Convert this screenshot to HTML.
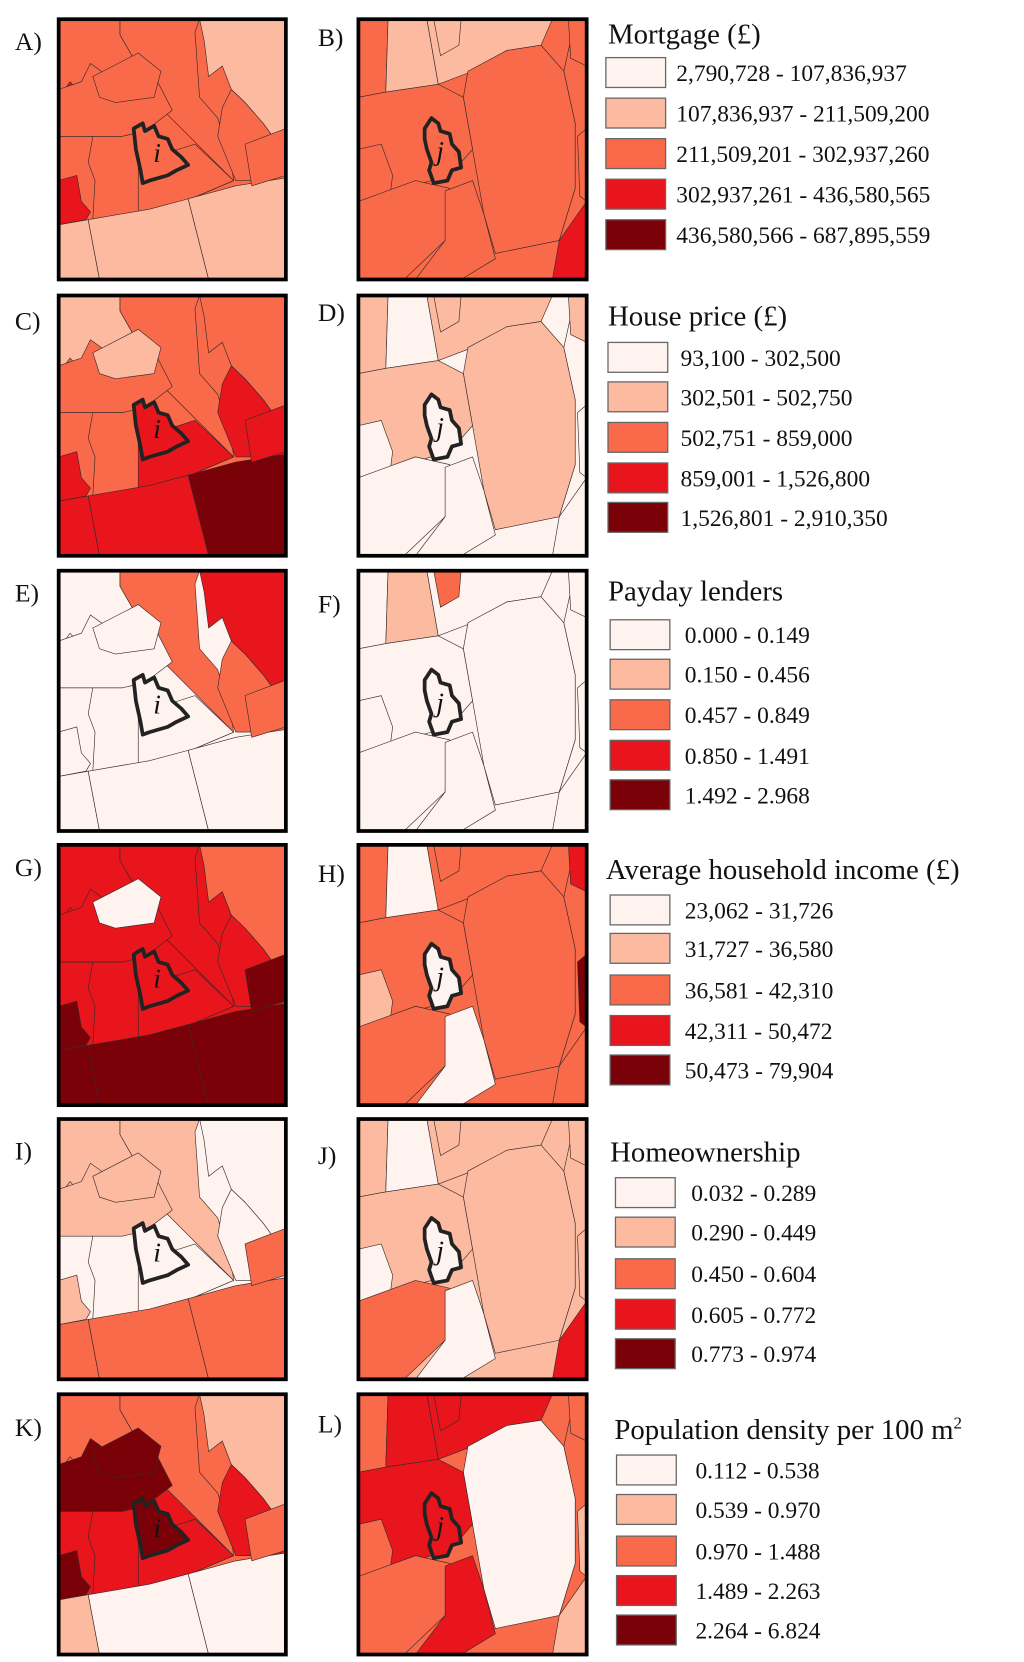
<!DOCTYPE html>
<html><head><meta charset="utf-8"><style>
html,body{margin:0;padding:0;background:#fff;}
svg{display:block;}
text{font-family:"Liberation Serif",serif;fill:#111;}
</style></head><body>
<svg id="fig" width="1024" height="1662" viewBox="0 0 960 1558" preserveAspectRatio="none" xmlns="http://www.w3.org/2000/svg">
<rect x="0" y="0" width="960" height="1558" fill="#fff"/>
</svg>
<script>
const palette = ['#fef3ee','#fcbba1','#f96a4a','#e9151c','#7a0107'];

const leftMapNames = ['A)','C)','E)','G)','I)','K)'];
const rightMapNames = ['B)','D)','F)','H)','J)','L)'];

// region colour classes (index into palette) for left (i) maps
const colorsA = [2,2,2,1,2,2,2,3,2,2,3,2,2,1,1,1,2];
const colorsC = [2,1,2,2,3,2,2,2,2,1,3,3,3,3,3,4,3];
const colorsE = [0,0,2,3,2,0,0,0,0,0,0,0,0,0,0,0,2];
const colorsG = [3,3,3,2,3,3,3,3,3,0,4,3,3,4,4,4,4];
const colorsI = [0,1,1,0,0,0,0,1,1,1,1,0,0,2,2,2,2];
const colorsK = [2,2,2,1,3,3,3,2,4,4,4,3,4,1,0,0,2];
// region colour classes for right (j) maps
const colorsB = [2,2,1,1,1,2,2,2,2,2,2,2,2,3,2];
const colorsD = [0,1,0,1,1,1,1,0,0,0,0,0,0,0,1];
const colorsF = [0,0,1,0,2,0,0,0,0,0,0,0,0,0,0];
const colorsH = [2,2,0,2,2,2,2,1,2,0,0,2,4,2,3];
const colorsJ = [1,1,0,1,1,1,1,0,2,0,0,1,1,3,1];
const colorsL = [2,2,3,3,3,0,3,2,2,3,3,2,1,1,2];

const legendTitles = ['Mortgage (£)','House price (£)','Payday lenders','Average household income (£)','Homeownership','Population density per 100 m'];
const legendLabels = [
 ['2,790,728 - 107,836,937','107,836,937 - 211,509,200','211,509,201 - 302,937,260','302,937,261 - 436,580,565','436,580,566 - 687,895,559'],
 ['93,100 - 302,500','302,501 - 502,750','502,751 - 859,000','859,001 - 1,526,800','1,526,801 - 2,910,350'],
 ['0.000 - 0.149','0.150 - 0.456','0.457 - 0.849','0.850 - 1.491','1.492 - 2.968'],
 ['23,062 - 31,726','31,727 - 36,580','36,581 - 42,310','42,311 - 50,472','50,473 - 79,904'],
 ['0.032 - 0.289','0.290 - 0.449','0.450 - 0.604','0.605 - 0.772','0.773 - 0.974'],
 ['0.112 - 0.538','0.539 - 0.970','0.970 - 1.488','1.489 - 2.263','2.264 - 6.824']
];

const NS='http://www.w3.org/2000/svg';
const svg=document.getElementById('fig');
function mk(tag,attrs,parent){const e=document.createElementNS(NS,tag);for(const k in attrs)e.setAttribute(k,attrs[k]);(parent||svg).appendChild(e);return e;}

const leftGeom=[
 [[0,0],[100,0],[100,100],[0,100]],
 [[0,0],[27,0],[27,6],[46,35],[28,45],[0,45]],
 [[27,0],[62,0],[60,5],[62,30],[70,38],[76,55],[77,62],[55,70],[46,35],[27,6]],
 [[62,0],[100,0],[100,52],[90,40],[82,32],[76,27],[72,18],[66,22],[64,8]],
 [[100,52],[90,40],[82,32],[76,27],[72,34],[70,45],[78,62],[100,62]],
 [[0,45],[28,45],[46,35],[77,62],[50,72],[0,79]],
 [[0,45],[15,45],[13,55],[16,62],[15,77],[0,79]],
 [[0,30],[5,24],[9,28],[14,20],[18,26],[30,23],[26,29],[0,40]],
 [[0,27],[10,24],[14,17],[22,22],[40,18],[50,35],[38,43],[28,45],[0,45]],
 [[15,22],[35,13],[45,20],[42,30],[25,32],[18,30]],
 [[0,62],[8,60],[10,70],[14,74],[12,77],[0,79]],
 [[35,55],[60,48],[77,62],[50,72],[35,74]],
 [[33,42],[37,40],[38,43],[42,41],[44,45],[48,46],[50,50],[54,53],[57,56],[52,58],[48,60],[40,62],[37,63],[36,58],[34,50]],
 [[0,79],[13,77],[18,100],[0,100]],
 [[13,77],[40,73],[57,69],[66,100],[18,100]],
 [[57,69],[78,64],[100,61],[100,100],[66,100]],
 [[82,48],[100,42],[100,60],[85,64]]
];
const rightGeom=[
 [[0,0],[100,0],[100,100],[0,100]],
 [[0,0],[13,0],[12,28],[0,30]],
 [[13,0],[30,0],[35,25],[12,28]],
 [[30,0],[85,0],[80,10],[65,12],[50,20],[35,25]],
 [[33,0],[45,0],[44,10],[36,14]],
 [[48,20],[65,12],[80,10],[90,20],[95,40],[95,65],[88,85],[60,90],[55,75],[50,50],[46,30]],
 [[0,30],[12,28],[35,25],[46,30],[50,50],[40,60],[0,70]],
 [[0,50],[10,48],[15,60],[12,80],[0,82]],
 [[0,70],[25,62],[40,65],[38,85],[20,100],[0,100]],
 [[38,66],[50,62],[55,75],[60,92],[45,100],[25,100],[38,85]],
 [[29,42],[32,38],[35,40],[36,43],[40,44],[41,48],[44,51],[45,57],[41,58],[39,62],[33,63],[31,58],[32,55],[30,50],[29,46]],
 [[95,0],[100,0],[100,100],[88,100],[88,85],[95,65],[95,40],[90,20]],
 [[96,45],[100,42],[100,70],[97,68]],
 [[88,85],[100,70],[100,100],[85,100]],
 [[92,0],[100,0],[100,18],[93,15]]
];
const iShape=leftGeom[12], jShape=rightGeom[10];

const leftColors=[colorsA,colorsC,colorsE,colorsG,colorsI,colorsK];
const rightColors=[colorsB,colorsD,colorsF,colorsH,colorsJ,colorsL];
const rowTops=[18,277,535,792,1049,1307];
const leftLabelY=[38,300,555,812,1078,1337];
const rightLabelY=[34,292,565,818,1082,1334];
const legendGeo=[[570,32,568,[68,106,144,182,220],634],[570,296,570,[335,372,410,448,485],638],[570,554,572,[595,632,670,708,745],642],[568,815,572,[853,889,928,966,1003],642],[572,1080,577,[1118,1155,1194,1232,1269],648],[576,1340,578,[1378,1415,1454,1491,1528],652]];

let clipId=0;
function drawMap(fx,fy,fw,fh,geom,cols,shape,letter,name){
  const g=mk('g',{});
  
  
  const cid='clip'+(clipId++);
  const cp=mk('clipPath',{id:cid},g);
  mk('rect',{x:fx,y:fy,width:fw,height:fh},cp);
  const inner=mk('g',{'clip-path':'url(#'+cid+')'},g);
  const pt=p=>(fx+p[0]/100*fw).toFixed(1)+','+(fy+p[1]/100*fh).toFixed(1);
  geom.forEach((poly,k)=>{
    const e=mk('polygon',{points:poly.map(pt).join(' '),fill:palette[cols[k]],stroke:'#3a2a2a','stroke-width':0.6},inner);
    
    
  });
  const o=mk('polygon',{points:shape.map(pt).join(' '),fill:'none',stroke:'#222','stroke-width':3.5,'stroke-linejoin':'round'},g);
  
  
  let cx=0,cy=0;shape.forEach(p=>{cx+=p[0];cy+=p[1];});cx/=shape.length;cy/=shape.length;
  const t=mk('text',{x:fx+cx/100*fw,y:fy+cy/100*fh+9,'font-size':26,'font-style':'italic','text-anchor':'middle'},g);
  t.textContent=letter;
  
  
  const fr=mk('rect',{x:fx,y:fy,width:fw,height:fh,fill:'none',stroke:'#000','stroke-width':3.5},g);
  
  
}

for(let r=0;r<6;r++){
  drawMap(55,rowTops[r],213,244,leftGeom,leftColors[r],iShape,'i','map-'+leftMapNames[r][0].toLowerCase());
  drawMap(336,rowTops[r],214,244,rightGeom,rightColors[r],jShape,'j','map-'+rightMapNames[r][0].toLowerCase());
  const la=mk('text',{x:14,y:leftLabelY[r]+9,'font-size':24});
  la.textContent=leftMapNames[r];
  
  
  const lb=mk('text',{x:298,y:rightLabelY[r]+9,'font-size':24});
  lb.textContent=rightMapNames[r];
  
  

  const lg=legendGeo[r];
  const leg=mk('g',{});
  
  
  const tt=mk('text',{x:lg[0],y:lg[1]+9,'font-size':27},leg);
  tt.textContent=legendTitles[r];
  if(r===5){const s=mk('tspan',{dy:-10,'font-size':16},tt);s.textContent='2';}
  
  
  for(let k=0;k<5;k++){
    const b=mk('rect',{x:lg[2],y:lg[3][k]-14,width:56,height:28,fill:palette[k],stroke:'#666','stroke-width':1.2},leg);
    
    
    const lt=mk('text',{x:lg[4],y:lg[3][k]+8,'font-size':22},leg);
    lt.textContent=legendLabels[r][k];
    
    
  }
}
</script>
</body></html>
